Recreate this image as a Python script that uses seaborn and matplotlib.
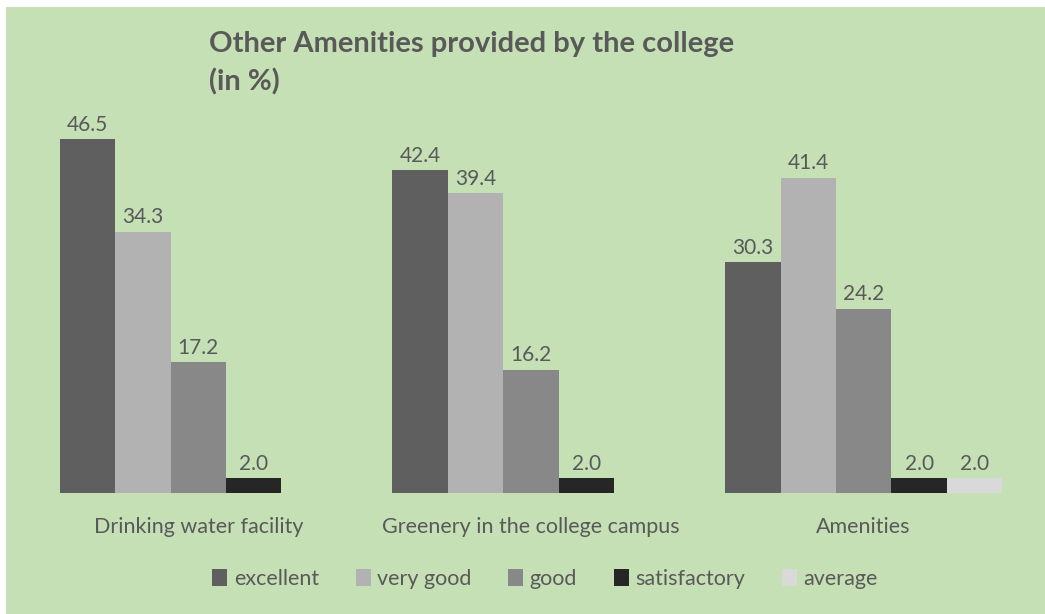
import pandas as pd
import matplotlib.pyplot as plt
import seaborn as sns
from matplotlib.patches import Rectangle

# --- data ---
categories = ["Drinking water facility", "Greenery in the college campus", "Amenities"]
ratings = ["excellent", "very good", "good", "satisfactory", "average"]
excellent = [46.5, 42.4, 30.3]
very_good = [34.3, 39.4, 41.4]
good = [17.2, 16.2, 24.2]
satisfactory = [2.0, 2.0, 2.0]
average = [None, None, 2.0]

palette = {
    "excellent": "#5f5f5f",
    "very good": "#b2b2b2",
    "good": "#888888",
    "satisfactory": "#262626",
    "average": "#d9d9d9",
}
BG = "#c5e0b4"
TXT = "#595959"

rows = []
for series, name in zip([excellent, very_good, good, satisfactory, average], ratings):
    for cat, val in zip(categories, series):
        if val is not None:
            rows.append({"category": cat, "rating": name, "value": val})
df = pd.DataFrame(rows)

sns.set_style("white")
plt.rcParams["font.family"] = ["Lato", "DejaVu Sans"]

fig = plt.figure(figsize=(10.45, 6.14), dpi=100)
fig.patch.set_facecolor("white")
fig.patches.append(Rectangle((6 / 1045, 0), 1 - 6 / 1045, 1 - 7 / 614,
                             transform=fig.transFigure, facecolor=BG,
                             edgecolor="none", zorder=-10))

ax = fig.add_axes([32 / 1045, 1 - 493 / 614, (1030 - 32) / 1045, (493 - 112) / 614])
ax.set_facecolor("none")

sns.barplot(data=df, x="category", y="value", hue="rating", order=categories,
            hue_order=ratings, palette=palette, width=0.833, gap=0,
            edgecolor="none", linewidth=0, ax=ax, legend=True)

for cont in ax.containers:
    ax.bar_label(cont, fmt="%.1f", padding=3, color=TXT, fontsize=15)

ax.set_ylim(0, 50)
ax.set_xlim(-0.5, 2.5)
ax.set_yticks([])
ax.set_xlabel("")
ax.set_ylabel("")
ax.tick_params(axis="x", length=0, pad=17, labelsize=15.5, labelcolor=TXT)
sns.despine(ax=ax, left=True, bottom=True)

handles, labels = ax.get_legend_handles_labels()
ax.get_legend().remove()
fig.legend(handles, labels, loc="center", bbox_to_anchor=(545 / 1045, 1 - 579 / 614),
           ncol=5, frameon=False, fontsize=15.5, labelcolor=TXT,
           handlelength=0.7, handleheight=0.85, handletextpad=0.3, columnspacing=1.7)

fig.text(209 / 1045, 1 - 31 / 614, "Other Amenities provided by the college\n(in %)",
         ha="left", va="top", fontsize=21, fontweight="bold", color=TXT,
         linespacing=1.5)

fig.savefig("out.png", dpi=100, facecolor=fig.get_facecolor())
